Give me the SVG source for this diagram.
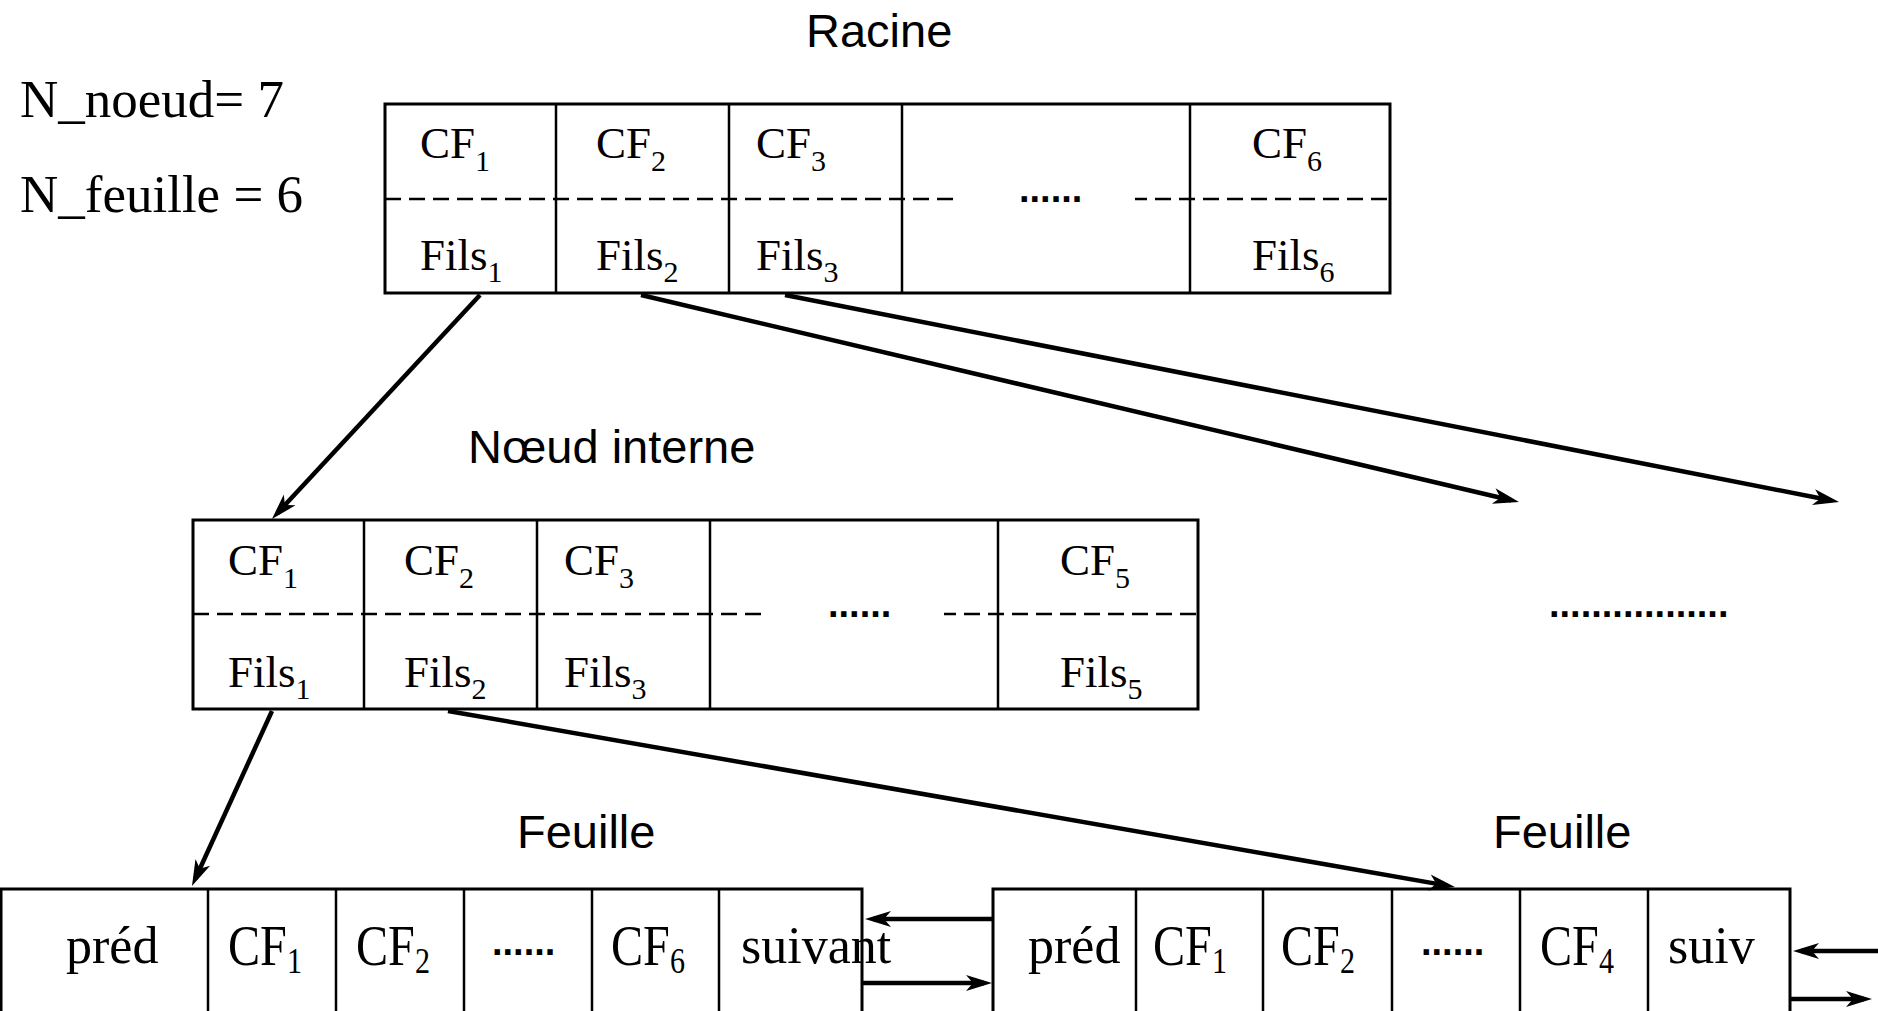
<svg xmlns="http://www.w3.org/2000/svg" width="1878" height="1011" viewBox="0 0 1878 1011">
<style>
.box{fill:none;stroke:#000;stroke-width:3}
.div{stroke:#000;stroke-width:2.5}
.dash{stroke:#000;stroke-width:2.5;stroke-dasharray:16 8}
.conn{stroke:#000;stroke-width:4.5;fill:none;marker-end:url(#ah)}
.t{font-family:"Liberation Serif","Times New Roman",serif;fill:#000}
.cf{font-size:45px}
.lcf{font-size:56px}
.sub{font-size:30px}
.lsub{font-size:35px}
.big{font-size:52px}
.info{font-size:53px}
.lbl{font-family:"Liberation Sans",Arial,sans-serif;font-size:47px;fill:#000}
.dots{font-family:"Liberation Sans",Arial,sans-serif;font-size:38px;font-weight:bold;fill:#000}
</style>
<defs>
<marker id="ah" markerUnits="userSpaceOnUse" markerWidth="30" markerHeight="20" viewBox="0 -10 30 20" refX="18" refY="0" orient="auto">
<path d="M0,-8 L26,0 L0,8 L7,0 Z" fill="#000"/>
</marker>
</defs>
<rect width="1878" height="1011" fill="#fff"/>

<g id="info">
<text class="t info" x="20" y="117">N_noeud= 7</text>
<text class="t info" x="20" y="212">N_feuille = 6</text>
</g>

<g id="racine">
<text class="lbl" x="806" y="47">Racine</text>
<rect class="box" x="385" y="104" width="1005" height="189"/>
<line class="div" x1="556" y1="104" x2="556" y2="293"/>
<line class="div" x1="729" y1="104" x2="729" y2="293"/>
<line class="div" x1="902" y1="104" x2="902" y2="293"/>
<line class="div" x1="1190" y1="104" x2="1190" y2="293"/>
<line class="dash" x1="385" y1="199" x2="958" y2="199"/>
<line class="dash" x1="1135" y1="199" x2="1390" y2="199" stroke-dashoffset="4"/>
<text class="dots" x="1019" y="202">......</text>
<text class="t cf" x="420" y="158">CF<tspan class="sub" dy="13">1</tspan></text>
<text class="t cf" x="596" y="158">CF<tspan class="sub" dy="13">2</tspan></text>
<text class="t cf" x="756" y="158">CF<tspan class="sub" dy="13">3</tspan></text>
<text class="t cf" x="1252" y="158">CF<tspan class="sub" dy="13">6</tspan></text>
<text class="t cf" x="420" y="270">Fils<tspan class="sub" dy="12">1</tspan></text>
<text class="t cf" x="596" y="270">Fils<tspan class="sub" dy="12">2</tspan></text>
<text class="t cf" x="756" y="270">Fils<tspan class="sub" dy="12">3</tspan></text>
<text class="t cf" x="1252" y="270">Fils<tspan class="sub" dy="12">6</tspan></text>
</g>

<g id="noeud-interne">
<text class="lbl" x="468" y="463">Nœud interne</text>
<rect class="box" x="193" y="520" width="1005" height="189"/>
<line class="div" x1="364" y1="520" x2="364" y2="709"/>
<line class="div" x1="537" y1="520" x2="537" y2="709"/>
<line class="div" x1="710" y1="520" x2="710" y2="709"/>
<line class="div" x1="998" y1="520" x2="998" y2="709"/>
<line class="dash" x1="193" y1="614" x2="767" y2="614"/>
<line class="dash" x1="944" y1="614" x2="1198" y2="614" stroke-dashoffset="4"/>
<text class="dots" x="828" y="617">......</text>
<text class="t cf" x="228" y="575">CF<tspan class="sub" dy="13">1</tspan></text>
<text class="t cf" x="404" y="575">CF<tspan class="sub" dy="13">2</tspan></text>
<text class="t cf" x="564" y="575">CF<tspan class="sub" dy="13">3</tspan></text>
<text class="t cf" x="1060" y="575">CF<tspan class="sub" dy="13">5</tspan></text>
<text class="t cf" x="228" y="687">Fils<tspan class="sub" dy="12">1</tspan></text>
<text class="t cf" x="404" y="687">Fils<tspan class="sub" dy="12">2</tspan></text>
<text class="t cf" x="564" y="687">Fils<tspan class="sub" dy="12">3</tspan></text>
<text class="t cf" x="1060" y="687">Fils<tspan class="sub" dy="12">5</tspan></text>
</g>

<g id="autres">
<text class="dots" x="1549" y="617">.................</text>
</g>

<g id="feuille-1">
<text class="lbl" x="517" y="848">Feuille</text>
<rect class="box" x="1" y="889" width="861" height="150"/>
<line class="div" x1="208" y1="889" x2="208" y2="1011"/>
<line class="div" x1="336" y1="889" x2="336" y2="1011"/>
<line class="div" x1="464" y1="889" x2="464" y2="1011"/>
<line class="div" x1="592" y1="889" x2="592" y2="1011"/>
<line class="div" x1="719" y1="889" x2="719" y2="1011"/>
<text class="t big" x="66" y="963">préd</text>
<text class="t lcf" transform="translate(228,965) scale(0.86,1)">CF<tspan class="lsub" dy="8">1</tspan></text>
<text class="t lcf" transform="translate(356,965) scale(0.86,1)">CF<tspan class="lsub" dy="8">2</tspan></text>
<text class="dots" x="492" y="955">......</text>
<text class="t lcf" transform="translate(611,965) scale(0.86,1)">CF<tspan class="lsub" dy="8">6</tspan></text>
<text class="t big" x="741" y="963">suivant</text>
</g>

<g id="feuille-2">
<text class="lbl" x="1493" y="848">Feuille</text>
<rect class="box" x="993" y="889" width="797" height="150"/>
<line class="div" x1="1136" y1="889" x2="1136" y2="1011"/>
<line class="div" x1="1263" y1="889" x2="1263" y2="1011"/>
<line class="div" x1="1392" y1="889" x2="1392" y2="1011"/>
<line class="div" x1="1520" y1="889" x2="1520" y2="1011"/>
<line class="div" x1="1648" y1="889" x2="1648" y2="1011"/>
<text class="t big" x="1028" y="963">préd</text>
<text class="t lcf" transform="translate(1153,965) scale(0.86,1)">CF<tspan class="lsub" dy="8">1</tspan></text>
<text class="t lcf" transform="translate(1281,965) scale(0.86,1)">CF<tspan class="lsub" dy="8">2</tspan></text>
<text class="dots" x="1421" y="955">......</text>
<text class="t lcf" transform="translate(1540,965) scale(0.86,1)">CF<tspan class="lsub" dy="8">4</tspan></text>
<text class="t big" x="1668" y="963">suiv</text>
</g>

<g id="connecteurs">
<line class="conn" x1="480" y1="295" x2="277.4" y2="513.1"/>
<line class="conn" x1="641" y1="295" x2="1511.2" y2="500.2"/>
<line class="conn" x1="785" y1="295" x2="1831.2" y2="500.5"/>
<line class="conn" x1="272" y1="711" x2="195.3" y2="878.7"/>
<line class="conn" x1="448" y1="711" x2="1447.1" y2="885.6"/>
<line class="conn" x1="993" y1="919" x2="873" y2="919"/>
<line class="conn" x1="863" y1="983" x2="984" y2="983"/>
<line class="conn" x1="1878" y1="951" x2="1801" y2="951"/>
<line class="conn" x1="1790" y1="999" x2="1864" y2="999"/>
</g>
</svg>
